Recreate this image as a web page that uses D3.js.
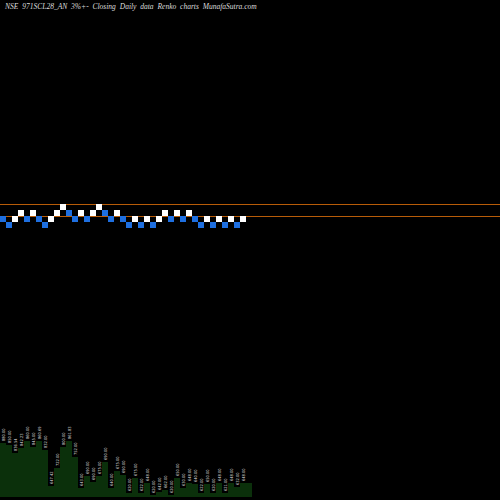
<!DOCTYPE html><html><head><meta charset="utf-8"><script src="https://cdn.jsdelivr.net/npm/d3@7"></script>
<style>body{margin:0;background:#000}</style></head><body><svg id="c" width="500" height="500"></svg>
<script>
const levels=[1,0,1,2,1,2,1,0,1,2,3,2,1,2,1,2,3,2,1,2,1,0,1,0,1,0,1,2,1,2,1,2,1,0,1,0,1,0,1,0,1];
const dirs=["d","d","u","u","d","u","d","d","u","u","u","d","d","u","d","u","u","d","d","u","d","d","u","d","u","d","u","u","d","u","d","u","d","d","u","d","u","d","u","d","u"];
const volumes=[54,52,44,49,56,50,56,47,11,29,50,56,40,9,21,15,21,35,9,26,22,4,19,4,14,2,5,7,2,19,9,14,13,4,13,4,14,4,14,10,14];
const volLabels=["880.00","850.00","836.54","842.23","860.00","845.00","860.69","832.00","647.42","722.00","800.00","861.83","752.00","643.00","690.00","690.00","675.00","690.00","640.00","675.00","690.00","620.00","675.00","622.00","648.00","620.00","642.00","662.00","620.00","650.00","630.00","648.00","640.00","622.00","650.00","620.00","648.00","621.00","648.00","632.00","648.00"];
const lines=[4,2];
const svg=d3.select("#c");
svg.append("rect").attr("width",500).attr("height",500).attr("fill","#000");
const x=d3.scaleLinear().domain([0,1]).range([0,6]);
const y=d3.scaleLinear().domain([0,4]).range([228,204]);
const yv=d3.scaleLinear().domain([0,60]).range([497,437]);
svg.selectAll("line.o").data(lines).join("line").attr("x1",0).attr("x2",500)
 .attr("y1",d=>y(d)+0.5).attr("y2",d=>y(d)+0.5).attr("stroke","#b85c08").attr("stroke-width",1);
svg.selectAll("rect.b").data(levels).join("rect").attr("x",(d,i)=>x(i)).attr("y",d=>y(d+1))
 .attr("width",x(1)-x(0)).attr("height",y(0)-y(1)).attr("fill",(d,i)=>dirs[i]=="u"?"#ffffff":"#1e6fe0");
const area=d3.area().curve(d3.curveStepAfter).x((d,i)=>x(i)).y0(yv(0)).y1(d=>yv(d));
const v=volumes.concat([volumes[volumes.length-1],volumes[volumes.length-1]]);
svg.append("path").datum(v).attr("d",area).attr("fill","#0b300b");
svg.selectAll("text.v").data(volumes).join("text")
 .attr("transform",(d,i)=>`translate(${x(i)+4.5},${yv(d)-2}) rotate(-90)`)
 .attr("font-size",4).attr("font-family","DejaVu Sans Condensed").attr("fill","#ddd").text((d,i)=>volLabels[i]);
svg.append("text").attr("x",5).attr("y",9).attr("font-family","Liberation Serif").attr("font-style","italic")
 .attr("font-size",7.5).attr("word-spacing",2).attr("fill","#ddd").text("NSE 971SCL28_AN  3%+-  Closing Daily data  Renko  charts MunafaSutra.com");
</script></body></html>
